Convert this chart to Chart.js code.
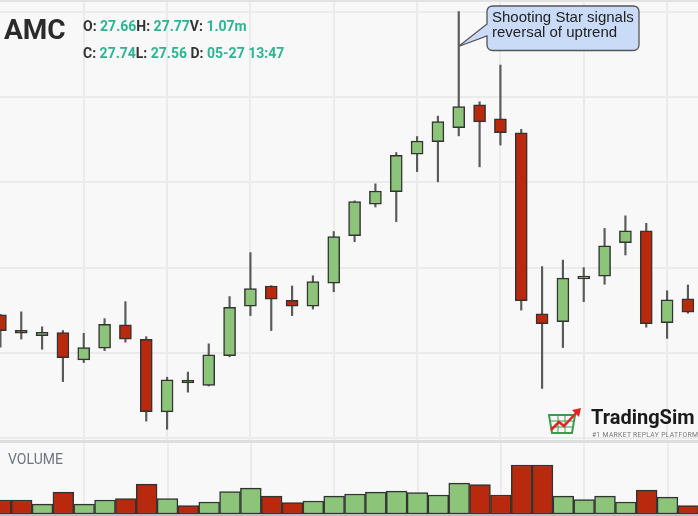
<!DOCTYPE html>
<html>
<head>
<meta charset="utf-8">
<script src="https://cdn.jsdelivr.net/npm/chart.js@4.4.0/dist/chart.umd.min.js"></script>
<style>
body{margin:0;background:#f8f8f8;font-family:Roboto,Arial,sans-serif;}
#wrap{position:relative;width:698px;height:516px;overflow:hidden;background:#f8f8f8;}
#main{position:absolute;left:0;top:0;}
#vol{position:absolute;left:0;top:443px;}
.topline{position:absolute;left:0;top:0;width:698px;height:2px;background:#e2e2e2;}
.sep{position:absolute;left:0;top:440px;width:698px;height:3px;background:#dedede;}
.bottom{position:absolute;left:0;top:514px;width:698px;height:2px;background:#bdbdbd;}
.ticker{position:absolute;left:4px;top:16px;font-size:28px;line-height:28px;font-weight:700;color:#2b2b2b;}
.ohlc{position:absolute;left:83px;font-size:14px;line-height:14px;font-weight:700;color:#333;white-space:pre;}
.ohlc span{color:#2bb594;}
.vlabel{position:absolute;left:8px;top:452px;font-size:14px;line-height:14px;color:#6e7482;}
.note{position:absolute;left:492px;top:10px;font-family:"Liberation Sans",Arial,sans-serif;font-size:15px;line-height:14.5px;color:#222;}
.brand{position:absolute;left:591px;top:407px;font-size:20px;line-height:20px;font-weight:700;color:#1a1a1a;}
.tag{position:absolute;left:592px;top:432px;font-size:6.8px;line-height:7px;color:#777;letter-spacing:0.3px;white-space:nowrap;}
svg{position:absolute;left:0;top:0;}
</style>
</head>
<body>
<div id="wrap">
  <canvas id="main" width="698" height="440"></canvas>
  <canvas id="vol" width="698" height="71"></canvas>
  <div class="topline"></div>
  <div class="sep"></div>
  <div class="bottom"></div>

  <div class="ticker">AMC</div>
  <div class="ohlc" style="top:19px">O: <span>27.66</span>H: <span>27.77</span>V: <span>1.07m</span></div>
  <div class="ohlc" style="top:45.5px">C: <span>27.74</span>L: <span>27.56</span> D: <span>05-27 13:47</span></div>
  <div class="vlabel">VOLUME</div>

  <svg width="698" height="516">
    <path d="M493,6 H633 Q639,6 639,12 V44.5 Q639,50.5 633,50.5 H493 Q487,50.5 487,44.5 V36 L458.5,46.5 L487,24 V12 Q487,6 493,6 Z"
          fill="#c9dbf6" stroke="#555" stroke-width="1.3"/>
    <!-- logo basket + arrow -->
    <g transform="translate(548,408)">
      <path d="M1,7 H27 L24,25 H4 Z" fill="none" stroke="#3b9c4c" stroke-width="2"/>
      <path d="M3,13 H26 M3.5,19 H25 M10,7 V25 M17,7 V25" stroke="#3b9c4c" stroke-width="1"/>
      <path d="M3,22 L11,14 L16,18 L29,4" fill="none" stroke="#e12424" stroke-width="2.5"/>
      <path d="M24,2 L33,0 L31,9 Z" fill="#e12424"/>
    </g>
  </svg>
  <div class="note">Shooting Star signals<br>reversal of uptrend</div>
  <div class="brand">TradingSim</div>
  <div class="tag">#1 MARKET REPLAY PLATFORM</div>
</div>

<script>
// candles, one per bar (price)
const opens  = [27.611,27.566,27.550,27.559,27.479,27.513,27.582,27.539,27.326,27.419,27.404,27.491,27.637,27.696,27.654,27.637,27.704,27.844,27.936,27.973,28.083,28.120,28.161,28.228,28.187,28.146,27.614,27.591,27.717,27.725,27.823,27.858,27.588,27.658,27.620];
const highs  = [27.613,27.620,27.576,27.565,27.557,27.600,27.650,27.547,27.428,27.443,27.526,27.665,27.794,27.697,27.696,27.726,27.856,27.946,27.996,28.088,28.135,28.195,28.502,28.237,28.345,28.156,27.753,27.772,27.750,27.865,27.902,27.880,27.682,27.699,27.670];
const lows   = [27.516,27.540,27.510,27.415,27.471,27.506,27.531,27.299,27.275,27.384,27.402,27.488,27.609,27.565,27.609,27.628,27.679,27.826,27.928,27.885,28.032,28.002,28.137,28.046,28.110,27.625,27.395,27.515,27.650,27.701,27.787,27.575,27.542,27.616,27.600];
const closes = [27.565,27.557,27.560,27.485,27.515,27.583,27.540,27.327,27.420,27.411,27.494,27.633,27.688,27.657,27.637,27.709,27.841,27.944,27.975,28.080,28.122,28.179,28.223,28.178,28.146,27.653,27.585,27.719,27.725,27.814,27.858,27.585,27.655,27.619,27.660];
// volume in millions
const volumes = [0.70,0.70,0.49,1.09,0.49,0.70,0.77,1.49,0.77,0.42,0.60,1.12,1.29,0.89,0.57,0.65,0.89,1.00,1.09,1.14,1.07,0.95,1.54,1.47,0.95,2.45,2.45,0.89,0.72,0.89,0.60,1.19,0.84,0.42,0.45];

const priceGrid = [27.25,27.5,27.75,28,28.25,28.5];
const barGrid = [4,8,12,16,20,24,28,32];

const UP = '#8cc47a', DOWN = '#b8290d';
const colors = opens.map((o,i) => closes[i] >= o ? UP : DOWN);

const gridX = {
    type: 'linear',
    offset: false,
    ticks: {display: false},
    grid: {color: '#ebebeb', lineWidth: 2, drawTicks: false, offset: false},
    border: {display: false},
    afterBuildTicks: s => { s.ticks = barGrid.map(v => ({value: v})); }
};

new Chart(document.getElementById('main'), {
    type: 'bar',
    data: {
        datasets: [{
            label: 'body',
            data: opens.map((o,i) => ({x: i, y: [o, closes[i]]})),
            backgroundColor: colors,
            borderColor: '#333',
            borderWidth: 1.5,
            borderSkipped: false,
            barThickness: 12,
            grouped: false,
            order: 0
        }, {
            label: 'wick',
            data: lows.map((l,i) => ({x: i, y: [l, highs[i]]})),
            backgroundColor: '#5a5a5a',
            barThickness: 1.5,
            grouped: false,
            order: 1
        }]
    },
    options: {
        responsive: false,
        animation: false,
        layout: {padding: 0},
        plugins: {legend: {display: false}, tooltip: {enabled: false}},
        scales: {
            x: Object.assign({min: -0.02, max: 33.484}, gridX),
            y: {
                type: 'linear',
                min: 27.2435,
                max: 28.5361,
                ticks: {display: false},
                grid: {color: '#ebebeb', lineWidth: 2, drawTicks: false},
                border: {display: false},
                afterBuildTicks: s => { s.ticks = priceGrid.map(v => ({value: v})); }
            }
        }
    }
});

new Chart(document.getElementById('vol'), {
    type: 'bar',
    data: {
        datasets: [{
            label: 'volume',
            data: volumes.map((v,i) => ({x: i, y: v})),
            backgroundColor: colors,
            borderColor: '#333',
            borderWidth: 1.5,
            borderSkipped: false,
            barThickness: 20.83
        }]
    },
    options: {
        responsive: false,
        animation: false,
        layout: {padding: 0},
        plugins: {legend: {display: false}, tooltip: {enabled: false}},
        scales: {
            x: Object.assign({min: -0.04, max: 33.464}, gridX),
            y: {
                min: 0,
                max: 3.55,
                ticks: {display: false},
                grid: {display: false, drawTicks: false},
                border: {display: false}
            }
        }
    }
});
</script>
</body>
</html>
